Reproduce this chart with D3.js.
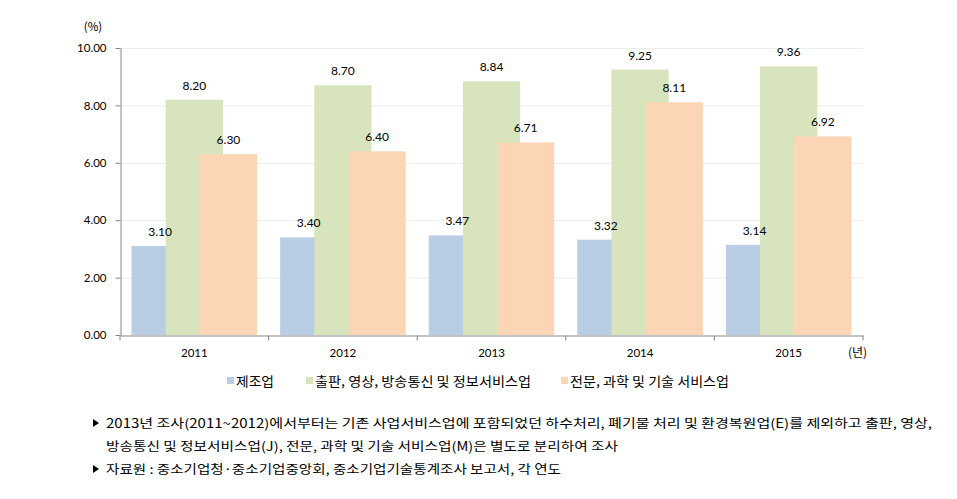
<!DOCTYPE html>
<html>
<head>
<meta charset="utf-8">
<script src="https://cdn.jsdelivr.net/npm/d3@7"></script>
<style>
  body { margin: 0; background: #fff; }
  svg text { font-family: "Noto Sans CJK KR", "Noto Sans", sans-serif; fill: #000; }
  .axis path, .axis line { stroke: #868686; }
  .axis text { font-family: Lato, "Open Sans", sans-serif; font-size: 11.5px; }
  .grid line { stroke: #ededed; }
  .val { font-family: Lato, "Open Sans", sans-serif; font-size: 12px; }
  .legend text { font-size: 13px; }
  .note { font-size: 12.5px; }
</style>
</head>
<body>
<svg id="chart" width="957" height="499"></svg>
<script>
var years = ["2011", "2012", "2013", "2014", "2015"];
var seriesNames = ["제조업", "출판, 영상, 방송통신 및 정보서비스업", "전문, 과학 및 기술 서비스업"];
var manufacturing = [3.10, 3.40, 3.47, 3.32, 3.14];
var publishing = [8.20, 8.70, 8.84, 9.25, 9.36];
var professional = [6.30, 6.40, 6.71, 8.11, 6.92];
var yTicks = [0, 2, 4, 6, 8, 10];
var colors = ["#b9cde5", "#d7e4bd", "#fcd5b5"];
var notes = [
    "2013년 조사(2011~2012)에서부터는 기존 사업서비스업에 포함되었던 하수처리, 폐기물 처리 및 환경복원업(E)를 제외하고 출판, 영상,",
    "방송통신 및 정보서비스업(J), 전문, 과학 및 기술 서비스업(M)은 별도로 분리하여 조사",
    "자료원 : 중소기업청·중소기업중앙회, 중소기업기술통계조사 보고서, 각 연도"
];
var noteWidths = [826, 512, 455];
var legendWidths = [38, 216, 159];

var svg = d3.select("#chart")
    , margin = {top: 48, left: 120}
    , width = 743
    , height = 287
    , g = svg.append("g").attr("transform", "translate(" + margin.left + "," + margin.top + ")")
    ;

var series = [manufacturing, publishing, professional];

var x = d3.scaleBand().domain(years).range([0, width]);
var y = d3.scaleLinear().domain([0, 10]).range([height, 0]);

var barW = x.bandwidth() * 0.385
    , step = x.bandwidth() * 0.23
    , groupLeft = (x.bandwidth() - (barW + 2 * step)) / 2
    ;

// gridlines
g.append("g")
    .attr("class", "grid")
    .selectAll("line")
    .data(yTicks.slice(1))
    .enter().append("line")
    .attr("x1", 0)
    .attr("x2", width)
    .attr("y1", function(d) { return y(d) + 0.5; })
    .attr("y2", function(d) { return y(d) + 0.5; });

// bars, drawn in series order so later ones overlap earlier ones
series.forEach(function(vals, si) {
    var sg = g.append("g").attr("class", "series s" + si);
    sg.selectAll("rect")
        .data(vals)
        .enter().append("rect")
        .attr("x", function(d, i) { return x(years[i]) + groupLeft + si * step; })
        .attr("y", function(d) { return y(d); })
        .attr("width", barW)
        .attr("height", function(d) { return height - y(d); })
        .attr("fill", colors[si]);
});

series.forEach(function(vals, si) {
    g.append("g").selectAll("text")
        .data(vals)
        .enter().append("text")
        .attr("class", "val")
        .attr("text-anchor", "middle")
        .attr("x", function(d, i) { return x(years[i]) + groupLeft + si * step + barW / 2; })
        .attr("y", function(d) { return y(d) - 10; })
        .text(function(d) { return d3.format(".2f")(d); });
});

// axes
var yAxis = d3.axisLeft(y).tickValues(yTicks).tickFormat(d3.format(".2f")).tickSize(5).tickSizeOuter(0);
g.append("g")
    .attr("class", "axis axis--y")
    .attr("transform", "translate(0.5,0)")
    .call(yAxis)
    .call(function(a) { a.selectAll("text").attr("x", -14); });

var xAxis = d3.axisBottom(x).tickSize(0).tickSizeOuter(0);
var xa = g.append("g")
    .attr("class", "axis axis--x")
    .attr("transform", "translate(0," + (height + 0.5) + ")")
    .call(xAxis);
xa.selectAll("text").attr("dy", "1.6em");
xa.selectAll(".sep")
    .data(years.concat(["end"]))
    .enter().append("line")
    .attr("class", "sep")
    .attr("x1", function(d, i) { return i < years.length ? x(d) : width; })
    .attr("x2", function(d, i) { return i < years.length ? x(d) : width; })
    .attr("y1", 0)
    .attr("y2", 5);

svg.append("text")
    .attr("x", 93)
    .attr("y", 31)
    .attr("text-anchor", "middle")
    .style("font-size", "11.5px")
    .text("(%)");

svg.append("text")
    .attr("x", 848)
    .attr("y", 357)
    .style("font-size", "12px")
    .text("(년)");

// legend
var legendX = [227, 306, 561];
var legend = svg.append("g").attr("class", "legend");
seriesNames.forEach(function(name, i) {
    legend.append("rect")
        .attr("x", legendX[i])
        .attr("y", 377)
        .attr("width", 7)
        .attr("height", 7)
        .attr("fill", colors[i]);
    legend.append("text")
        .attr("x", legendX[i] + 9)
        .attr("y", 386)
        .attr("textLength", legendWidths[i])
        .attr("lengthAdjust", "spacingAndGlyphs")
        .text(name);
});

// notes
var noteY = [428, 451, 474];
var noteHasMark = [true, false, true];
notes.forEach(function(t, i) {
    if (noteHasMark[i]) {
        svg.append("path")
            .attr("d", "M93," + (noteY[i] - 9) + "L99," + (noteY[i] - 5) + "L93," + (noteY[i] - 1) + "Z")
            .attr("fill", "#000");
    }
    svg.append("text")
        .attr("class", "note")
        .attr("x", 106)
        .attr("y", noteY[i])
        .attr("textLength", noteWidths[i])
        .attr("lengthAdjust", "spacingAndGlyphs")
        .text(t);
});
</script>
</body>
</html>
